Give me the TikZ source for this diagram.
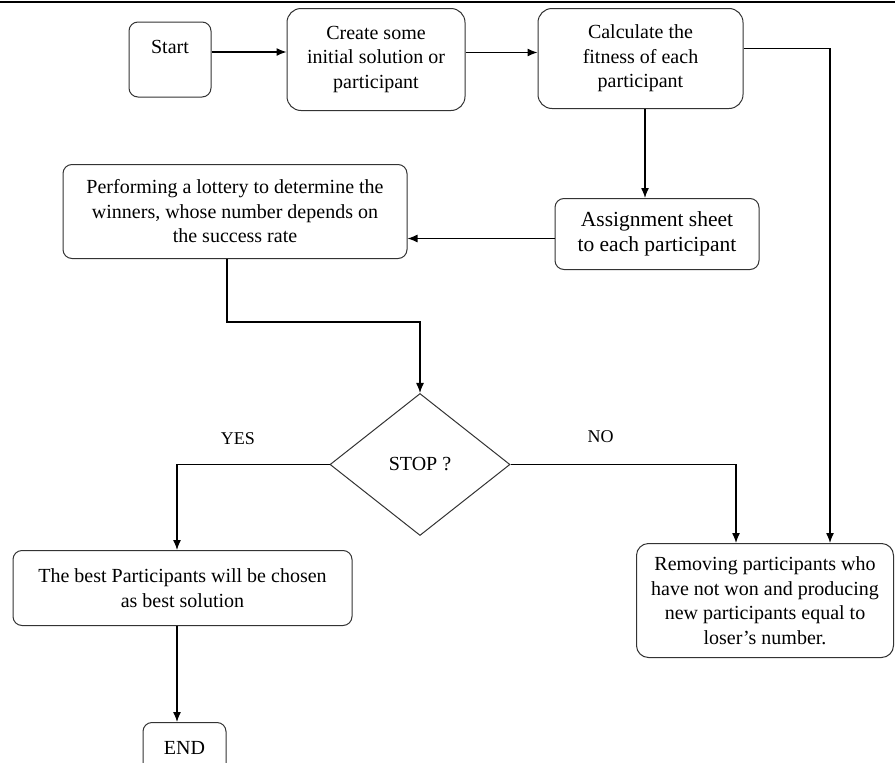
\documentclass[tikz,border=0pt]{standalone}
\usepackage{fontspec}
\setmainfont{Liberation Serif}
\usetikzlibrary{arrows,
                  arrows.meta,
                  positioning,
                  shapes.geometric}

\begin{document}
\begin{tikzpicture}[auto, every node/.style={font=\fontsize{20}{24.5}\selectfont, >=stealth}]
    \tikzset{
    rblock/.style={draw=black!80, line width=1pt, shape=rectangle, rounded corners=9pt, align=center},
    block/.style= {draw=black!80, line width=1pt, rectangle, rounded corners=14pt, align=center},
    decision/.style = {draw=black!80, diamond, minimum width=180pt, minimum height=142pt, text centered, inner sep=0pt, line width=1pt},
    line/.style = {draw, line width=1.3pt, -{Latex[length=10pt, width=8pt]}}
}
\useasboundingbox (0,0) rectangle (895pt,-763pt);
\draw [line width=2pt] (0,-1.5pt) -- (895pt,-1.5pt);

\node [rblock, minimum width=82pt, minimum height=75pt, text depth=26pt] (start) at (170pt,-59.5pt) {Start};
\node [block, minimum width=178pt, minimum height=102pt, right of=start, node distance=206pt] (create) {Create some\\initial solution or\\participant};
\node [block, minimum width=205pt, minimum height=100pt, right of=create, node distance=264.5pt, yshift=1pt] (calc) {Calculate the\\fitness of each\\participant};
\node [rblock, minimum width=204pt, minimum height=71pt, below of=calc, node distance=175.5pt, xshift=16.5pt, font=\fontsize{21.5}{25}\selectfont] (assign) {Assignment sheet\\to each participant};
\node [rblock, minimum width=344pt, minimum height=94pt, left of=assign, node distance=422pt, yshift=22.5pt] (lottery) {Performing a lottery to determine the\\winners, whose number depends on\\the success rate};
\node [decision, below of=lottery, node distance=253pt, xshift=185pt] (stop) {STOP ?};
\node [rblock, minimum width=339pt, minimum height=75pt, below of=stop, node distance=123.5pt, xshift=-237.5pt] (best) {The best Participants will be chosen\\as best solution};
\node [rblock, minimum width=83pt, minimum height=50pt, below of=best, node distance=159.5pt, xshift=2pt] (endnode) {END};
\node [rblock, minimum width=257pt, minimum height=114pt, rounded corners=12pt, right of=stop, node distance=345pt, yshift=-136pt] (removing) {Removing participants who\\have not won and producing\\new participants equal to\\loser's number.};

\node [coordinate, above=71pt of stop.north] (abovestop) {};

\path [line] ([yshift=7.5pt]start.east) -- ([yshift=7.5pt]start.east -| create.west);
\path [line] ([yshift=7pt]create.east) -- ([yshift=7pt]create.east -| calc.west);
\path [line] ([xshift=4.5pt]calc.south) -- ([xshift=4.5pt]calc.south |- assign.north);
\path [line] ([yshift=-4.5pt]assign.west) -- ([yshift=-4.5pt]assign.west -| lottery.east);
\path [line] ([xshift=-8pt]lottery.south) |- (abovestop) -- (stop);
\path [line] (stop.west) -| ([xshift=-5.5pt]best.north) node[pos=0.3, above=16pt, font=\fontsize{18}{20}\selectfont] {YES};
\path [line] (stop.east) -| ([xshift=-29pt]removing.north) node[pos=0.2, above=18pt, font=\fontsize{18}{20}\selectfont] {NO};
\path [line] ([yshift=10pt]calc.east) -| ([xshift=65pt]removing.north);
\path [line] ([xshift=-5.5pt]best.south) -- ([xshift=-5.5pt]best.south |- endnode.north);

\end{tikzpicture}
\end{document}
